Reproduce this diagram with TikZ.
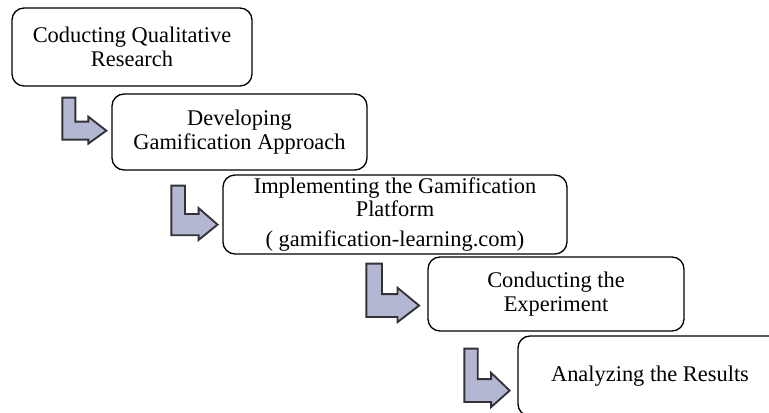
\documentclass[tikz,border=0pt]{standalone}
\usepackage{fontspec}
\setmainfont{Liberation Serif}
\usepackage{tikz}

\definecolor{arrowfill}{RGB}{180,183,210}
\definecolor{arrowline}{RGB}{50,50,55}

\tikzset{
  stage/.style={draw, rounded corners=9pt, line width=1pt, align=center,
    inner sep=0pt, font=\fontsize{16.8}{17.6}\selectfont},
  arrowbody/.style={fill=arrowfill, draw=arrowline, line width=1.4pt},
  bentarrow/.pic={
    \draw[arrowbody] (0,0) -- (13,0) -- (13,24) -- (26,24) -- (26,19)
      -- (44,33) -- (26,46) -- (26,42) -- (0,42) -- cycle;
  }
}

\begin{document}
\begin{tikzpicture}[x=0.75pt,y=-0.75pt]
    \useasboundingbox (0,0) rectangle (769,412);
    \clip (0,0) rectangle (769,412);

    % stages
    \node[stage, minimum width=180pt, minimum height=58.5pt] (qual) at (132,47)
        {Coducting Qualitative\\Research};
    \node[stage, minimum width=191.25pt, minimum height=57pt] (devel) at (239.5,132)
        {Developing\\Gamification Approach};
    \node[stage, minimum width=258pt, minimum height=59.25pt] (impl) at (395,214.5)
        {Implementing the Gamification\\Platform\\[4.5pt]( gamification-learning.com)};
    \node[stage, minimum width=192pt, minimum height=55.5pt] (expt) at (556,294)
        {Conducting the\\Experiment};
    \node[stage, minimum width=198pt, minimum height=60pt] (results) at (650,376)
        {Analyzing the Results};

    % bent arrows between stages
    \pic at ([shift={(51,11)}]qual.south west) {bentarrow};
    \pic[xscale=1.05,yscale=1.18] at ([shift={(60,15)}]devel.south west) {bentarrow};
    \pic[xscale=1.2,yscale=1.27] at ([shift={(144,9)}]impl.south west) {bentarrow};
    \pic[xscale=1.03,yscale=1.27] at ([shift={(37,17)}]expt.south west) {bentarrow};
\end{tikzpicture}
\end{document}
